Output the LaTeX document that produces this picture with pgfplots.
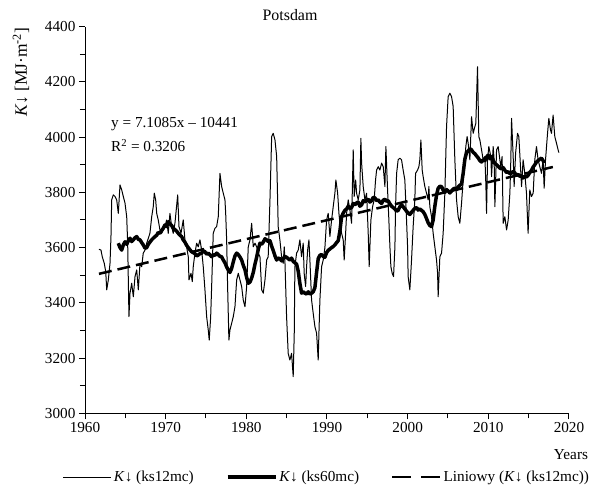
\documentclass[border=0pt]{standalone}
\usepackage{fontspec}
\setmainfont{Liberation Serif}
\usepackage{pgfplots}
\pgfplotsset{compat=1.18}
\begin{document}
\begin{tikzpicture}[font=\fontsize{15.3}{18}\selectfont]
\useasboundingbox (-85bp,-74.7bp) rectangle (519bp,413.3bp);
\begin{axis}[
  at={(0,0)}, anchor=south west,
  scale only axis, width=484bp, height=386.6bp,
  xmin=1960, xmax=2020, ymin=3000, ymax=4400,
  axis x line*=bottom, axis y line*=left,
  axis line style={line width=1bp, black},
  xtick={1960,1970,...,2020}, minor xtick={1965,1975,...,2015},
  ytick={3000,3200,...,4400}, minor ytick={3100,3300,...,4300},
  tick align=outside, major tick length=6bp, minor tick length=5bp,
  tick style={black, line width=1bp},
  /pgf/number format/assume math mode=true,
  /pgf/number format/1000 sep={},
  legend style={at={(axis description cs:0.5,-0.1648)}, anchor=center, draw=none, fill=none,
    legend columns=3, /tikz/every even column/.append style={column sep=30bp}},
  legend image code/.code={\draw[#1] (0bp,0bp) -- (48bp,0bp);},
  clip=false,
]
\addplot[black, line width=1bp, line join=round] coordinates {
(1961.73,3594)(1961.98,3591)(1962.14,3567)(1962.39,3543)(1962.57,3513)(1962.69,3447)(1962.89,3483)(1963.10,3543)(1963.22,3640)(1963.31,3773)(1963.51,3791)(1963.72,3785)(1963.93,3773)(1964.13,3724)(1964.34,3827)(1964.55,3809)(1964.75,3785)(1964.96,3761)(1965.17,3712)(1965.29,3616)(1965.45,3350)(1965.58,3435)(1965.79,3471)(1965.99,3422)(1966.20,3495)(1966.41,3519)(1966.61,3447)(1966.82,3543)(1967.03,3531)(1967.22,3580)(1967.44,3591)(1967.65,3616)(1968.05,3652)(1968.27,3712)(1968.46,3748)(1968.59,3797)(1968.76,3773)(1968.89,3724)(1969.08,3700)(1969.29,3664)(1969.50,3652)(1969.91,3676)(1970.12,3700)(1970.32,3652)(1970.53,3724)(1970.74,3676)(1970.94,3652)(1971.15,3688)(1971.49,3791)(1971.65,3676)(1971.90,3652)(1972.18,3700)(1972.39,3628)(1972.60,3603)(1972.80,3567)(1972.89,3483)(1973.14,3507)(1973.30,3477)(1973.42,3531)(1973.63,3580)(1973.84,3616)(1974.04,3603)(1974.25,3628)(1974.46,3591)(1974.66,3531)(1974.87,3447)(1975.08,3350)(1975.28,3302)(1975.40,3265)(1975.58,3350)(1975.70,3459)(1975.90,3652)(1976.11,3670)(1976.32,3676)(1976.52,3712)(1976.73,3869)(1976.94,3821)(1977.14,3797)(1977.35,3773)(1977.44,3724)(1977.56,3628)(1977.68,3459)(1977.84,3265)(1977.97,3302)(1978.18,3326)(1978.38,3350)(1978.59,3386)(1978.80,3483)(1979.00,3507)(1979.21,3483)(1979.42,3459)(1979.62,3410)(1979.83,3386)(1980.04,3459)(1980.24,3603)(1980.45,3628)(1980.66,3688)(1980.86,3603)(1981.07,3616)(1981.28,3603)(1981.48,3580)(1981.69,3567)(1981.90,3447)(1982.10,3435)(1982.31,3483)(1982.52,3555)(1982.71,3567)(1982.93,3773)(1983.14,4002)(1983.33,4014)(1983.55,3990)(1983.76,3930)(1983.88,3773)(1983.95,3676)(1984.16,3628)(1984.37,3567)(1984.57,3543)(1984.70,3603)(1984.78,3555)(1984.99,3350)(1985.19,3217)(1985.40,3193)(1985.61,3217)(1985.81,3133)(1985.94,3290)(1986.02,3531)(1986.23,3580)(1986.43,3591)(1986.64,3628)(1986.85,3567)(1987.05,3616)(1987.17,3507)(1987.35,3459)(1987.47,3531)(1987.60,3591)(1987.76,3628)(1987.88,3555)(1988.09,3410)(1988.29,3362)(1988.50,3314)(1988.71,3290)(1988.91,3193)(1989.00,3290)(1989.12,3410)(1989.33,3531)(1989.53,3555)(1989.74,3600)(1989.95,3700)(1990.15,3724)(1990.36,3640)(1990.57,3700)(1990.77,3748)(1990.98,3797)(1991.10,3845)(1991.32,3797)(1991.48,3724)(1991.60,3688)(1991.81,3652)(1992.01,3628)(1992.13,3555)(1992.31,3652)(1992.43,3724)(1992.63,3773)(1992.84,3736)(1993.05,3688)(1993.25,3954)(1993.37,3785)(1993.55,3845)(1993.67,3797)(1993.87,3773)(1994.08,3809)(1994.20,3996)(1994.29,3906)(1994.49,3821)(1994.70,3773)(1994.91,3797)(1995.11,3652)(1995.23,3531)(1995.44,3700)(1995.65,3748)(1995.85,3773)(1996.02,3845)(1996.15,3881)(1996.35,3893)(1996.56,3881)(1996.77,3906)(1996.97,3893)(1997.18,3821)(1997.30,3966)(1997.51,3809)(1997.67,3700)(1997.80,3603)(1997.92,3531)(1998.08,3507)(1998.25,3495)(1998.42,3603)(1998.50,3748)(1998.63,3869)(1998.82,3918)(1999.03,3924)(1999.24,3918)(1999.44,3881)(1999.65,3845)(1999.86,3700)(1999.99,3603)(2000.06,3495)(2000.27,3447)(2000.48,3555)(2000.68,3676)(2000.89,3773)(2000.98,3869)(2001.23,3881)(2001.39,3893)(2001.51,3918)(2001.64,3990)(2001.80,3881)(2001.92,3857)(2002.13,3821)(2002.34,3797)(2002.54,3773)(2002.63,3821)(2002.75,3748)(2002.96,3712)(2003.16,3652)(2003.37,3603)(2003.58,3555)(2003.71,3507)(2003.78,3422)(2003.99,3567)(2004.20,3580)(2004.40,3652)(2004.61,3797)(2004.82,4038)(2005.02,4147)(2005.23,4159)(2005.44,4147)(2005.64,4111)(2005.85,3918)(2006.06,3773)(2006.26,3712)(2006.47,3688)(2006.68,3761)(2006.88,3845)(2007.09,3918)(2007.21,3966)(2007.37,4002)(2007.50,3978)(2007.71,3918)(2007.92,4074)(2008.12,4014)(2008.33,4038)(2008.45,4050)(2008.66,4255)(2008.82,4002)(2008.95,3990)(2009.16,3954)(2009.36,3918)(2009.57,3930)(2009.69,3833)(2009.78,3724)(2009.90,3918)(2010.06,3966)(2010.31,3930)(2010.40,3857)(2010.60,3966)(2010.72,3918)(2010.81,3748)(2011.02,3954)(2011.22,3966)(2011.43,3918)(2011.55,3893)(2011.71,3930)(2011.84,3688)(2012.05,3712)(2012.26,3664)(2012.46,3700)(2012.67,3797)(2012.79,3918)(2012.88,4068)(2013.08,3930)(2013.20,3821)(2013.38,3942)(2013.62,4014)(2013.78,4002)(2013.94,3918)(2014.12,3821)(2014.31,3918)(2014.52,3869)(2014.73,3797)(2014.93,3652)(2015.14,3809)(2015.35,3785)(2015.56,3797)(2015.76,3918)(2015.97,3966)(2016.17,3918)(2016.38,3893)(2016.59,3869)(2016.79,3918)(2016.92,3815)(2017.09,3918)(2017.34,4014)(2017.50,4068)(2017.71,4026)(2017.83,4014)(2018.03,4080)(2018.24,4002)(2018.45,3978)(2018.65,3954)(2018.74,3944)
};
\addlegendentry{\textit{K}↓ (ks12mc)}
\addplot[black, line width=3.5bp, line join=round] coordinates {
(1964.13,3616)(1964.34,3600)(1964.55,3591)(1964.75,3610)(1964.96,3621)(1965.17,3612)(1965.37,3625)(1965.58,3634)(1965.79,3622)(1965.99,3628)(1966.20,3636)(1966.41,3640)(1966.61,3630)(1966.82,3628)(1967.03,3618)(1967.22,3610)(1967.44,3598)(1967.65,3600)(1967.85,3612)(1968.05,3620)(1968.26,3628)(1968.46,3634)(1968.68,3640)(1968.89,3645)(1969.08,3655)(1969.29,3652)(1969.50,3662)(1969.70,3670)(1969.91,3682)(1970.12,3676)(1970.32,3694)(1970.53,3686)(1970.74,3680)(1970.94,3670)(1971.15,3665)(1971.35,3660)(1971.56,3652)(1971.77,3645)(1971.98,3640)(1972.18,3628)(1972.39,3620)(1972.60,3608)(1972.80,3600)(1973.01,3592)(1973.22,3585)(1973.42,3582)(1973.63,3578)(1973.84,3570)(1974.04,3573)(1974.25,3578)(1974.46,3580)(1974.66,3588)(1974.87,3585)(1975.08,3576)(1975.28,3580)(1975.49,3574)(1975.70,3567)(1975.90,3574)(1976.11,3572)(1976.32,3580)(1976.52,3575)(1976.73,3568)(1976.94,3567)(1977.14,3555)(1977.35,3545)(1977.56,3530)(1977.76,3519)(1977.97,3510)(1978.18,3525)(1978.38,3548)(1978.59,3570)(1978.80,3580)(1979.00,3575)(1979.21,3566)(1979.42,3555)(1979.62,3536)(1979.83,3520)(1980.04,3492)(1980.24,3471)(1980.45,3475)(1980.66,3490)(1980.86,3510)(1981.07,3540)(1981.28,3565)(1981.48,3594)(1981.69,3616)(1981.90,3612)(1982.10,3620)(1982.31,3632)(1982.52,3628)(1982.71,3622)(1982.93,3625)(1983.14,3605)(1983.33,3590)(1983.55,3570)(1983.76,3555)(1983.95,3562)(1984.16,3560)(1984.37,3552)(1984.57,3560)(1984.78,3568)(1984.99,3565)(1985.19,3560)(1985.40,3555)(1985.61,3562)(1985.81,3550)(1986.02,3545)(1986.23,3540)(1986.43,3515)(1986.64,3470)(1986.85,3435)(1987.05,3440)(1987.26,3435)(1987.47,3432)(1987.67,3440)(1987.88,3432)(1988.09,3435)(1988.29,3440)(1988.50,3455)(1988.71,3510)(1988.91,3560)(1989.12,3572)(1989.33,3575)(1989.53,3568)(1989.74,3565)(1989.95,3582)(1990.15,3590)(1990.36,3595)(1990.57,3600)(1990.77,3604)(1990.98,3610)(1991.18,3618)(1991.39,3625)(1991.60,3660)(1991.81,3712)(1992.01,3725)(1992.22,3735)(1992.43,3740)(1992.63,3750)(1992.84,3742)(1993.05,3745)(1993.25,3760)(1993.47,3755)(1993.67,3762)(1993.87,3765)(1994.08,3750)(1994.29,3755)(1994.49,3770)(1994.70,3765)(1994.91,3772)(1995.11,3775)(1995.32,3765)(1995.53,3770)(1995.73,3782)(1995.94,3780)(1996.15,3770)(1996.35,3773)(1996.56,3765)(1996.77,3760)(1996.97,3772)(1997.18,3775)(1997.38,3768)(1997.59,3770)(1997.80,3758)(1998.01,3750)(1998.21,3745)(1998.42,3740)(1998.63,3732)(1998.82,3735)(1999.03,3748)(1999.24,3755)(1999.44,3748)(1999.65,3740)(1999.86,3732)(2000.06,3725)(2000.27,3720)(2000.48,3728)(2000.68,3735)(2000.89,3742)(2001.11,3745)(2001.30,3736)(2001.51,3740)(2001.71,3735)(2001.92,3730)(2002.13,3720)(2002.34,3705)(2002.54,3690)(2002.75,3680)(2002.96,3676)(2003.16,3700)(2003.37,3750)(2003.58,3790)(2003.78,3815)(2003.99,3822)(2004.20,3821)(2004.40,3808)(2004.61,3800)(2004.82,3810)(2005.02,3805)(2005.23,3798)(2005.44,3805)(2005.64,3812)(2005.85,3815)(2006.06,3810)(2006.26,3820)(2006.47,3826)(2006.68,3830)(2006.88,3869)(2007.09,3920)(2007.30,3945)(2007.50,3950)(2007.71,3958)(2007.92,3954)(2008.12,3945)(2008.33,3940)(2008.54,3932)(2008.74,3925)(2008.95,3915)(2009.16,3910)(2009.36,3918)(2009.57,3915)(2009.78,3928)(2009.98,3935)(2010.19,3922)(2010.40,3930)(2010.60,3915)(2010.81,3905)(2011.02,3900)(2011.22,3895)(2011.43,3888)(2011.64,3885)(2011.84,3890)(2012.05,3880)(2012.26,3872)(2012.46,3875)(2012.67,3868)(2012.88,3870)(2013.08,3876)(2013.29,3870)(2013.49,3862)(2013.70,3865)(2013.91,3858)(2014.12,3860)(2014.31,3852)(2014.52,3858)(2014.73,3856)(2014.93,3862)(2015.14,3872)(2015.35,3880)(2015.56,3892)(2015.76,3900)(2015.97,3910)(2016.17,3915)(2016.38,3920)(2016.59,3924)(2016.79,3915)(2016.92,3906)
};
\addlegendentry{\textit{K}↓ (ks60mc)}
\addplot[black, line width=2.5bp, dash pattern=on 13bp off 6bp, forget plot] coordinates {
(1961.73,3505)(2018.0,3892)
};
\addlegendimage{black, line width=2.5bp, dash pattern=on 19bp off 10bp}
\addlegendentry{Liniowy (\textit{K}↓ (ks12mc))}
\end{axis}
\node[anchor=base west, inner sep=0pt] at (26bp,285.3bp) {y = 7.1085x – 10441};
\node[anchor=base west, inner sep=0pt] at (26bp,261.3bp) {R\textsuperscript{2} = 0.3206};
\node[font=\fontsize{16}{19}\selectfont] at (205bp,398.3bp) {Potsdam};
\node[rotate=90, font=\fontsize{17.5}{20}\selectfont] at (-64bp,341bp) {\textit{K}↓ [MJ·m\textsuperscript{-2}]};
\node at (486bp,-41.7bp) {Years};
\end{tikzpicture}
\end{document}
